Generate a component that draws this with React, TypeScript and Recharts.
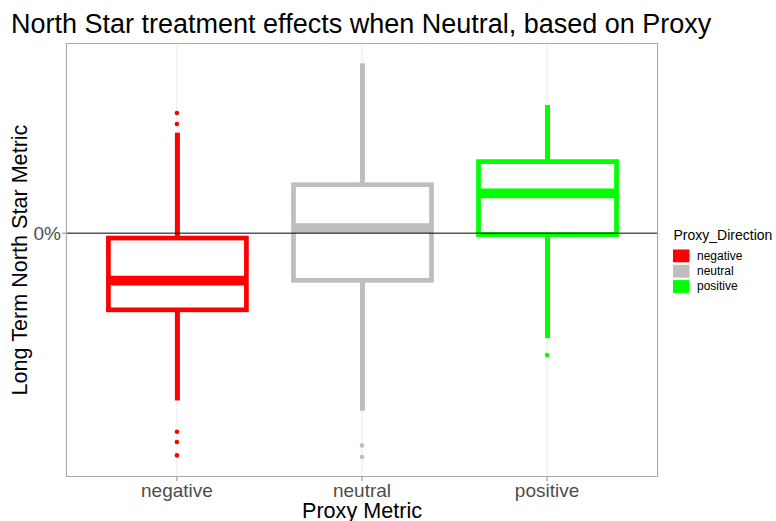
import React from 'react';
import { ComposedChart, Bar, Line, XAxis, YAxis, CartesianGrid, ReferenceLine } from 'recharts';

const categories = ['negative', 'neutral', 'positive'];
const whiskerLow = [-1.674, -1.777, -1.05];
const q1 = [-0.767, -0.472, -0.014];
const median = [-0.475, 0.05, 0.398];
const q3 = [-0.049, 0.485, 0.716];
const whiskerHigh = [1.006, 1.7, 1.283];
const outliers = [
  [1.203, 1.093, -1.987, -2.09, -2.224],
  [-2.124, -2.24],
  [-1.22],
];
const colors = ['#FF0000', '#BEBEBE', '#00FF00'];
const yTicks = [0];
const yTickLabels = ['0%'];

const data = categories.map((c, i) => {
  const row: any = {
    cat: c,
    range: [q1[i], q3[i]],
    q1: q1[i],
    q3: q3[i],
    med: median[i],
    wl: whiskerLow[i],
    wh: whiskerHigh[i],
    color: colors[i],
  };
  for (let k = 0; k < 5; k++) row['o' + k] = outliers[i][k] ?? null;
  return row;
});

const FONT = '"Liberation Sans", Arial, Helvetica, sans-serif';

const BoxShape = (props: any) => {
  const { x, y, width, height, payload } = props;
  if (x == null || y == null) return <g />;
  const ppu = height / (payload.q3 - payload.q1);
  const toY = (v: number) => y + (payload.q3 - v) * ppu;
  const cx = x + width / 2;
  const c = payload.color;
  return (
    <g>
      <line x1={cx} x2={cx} y1={toY(payload.wh)} y2={y} stroke={c} strokeWidth={5} />
      <line x1={cx} x2={cx} y1={y + height} y2={toY(payload.wl)} stroke={c} strokeWidth={5} />
      <rect x={x} y={y} width={width} height={height} fill="#FFFFFF" stroke={c} strokeWidth={4.7} />
      <line x1={x} x2={x + width} y1={toY(payload.med)} y2={toY(payload.med)} stroke={c} strokeWidth={9.7} />
    </g>
  );
};

const OutlierDot = (props: any) => {
  const { cx, cy, payload, value, index, dataKey } = props;
  if (value == null || cx == null || cy == null || isNaN(cy)) return <g key={`${dataKey}-${index}`} />;
  return <circle key={`${dataKey}-${index}`} cx={cx} cy={cy} r={2.3} fill={payload.color} />;
};

const XTick = (props: any) => {
  const { x, payload } = props;
  return (
    <text x={x} y={497} textAnchor="middle" fill="#4D4D4D" fontSize={19} fontFamily={FONT}>
      {payload.value}
    </text>
  );
};

const YTick = (props: any) => {
  const { y, payload } = props;
  const idx = yTicks.indexOf(payload.value);
  return (
    <text x={61} y={y + 7} textAnchor="end" fill="#4D4D4D" fontSize={19} fontFamily={FONT}>
      {yTickLabels[idx] ?? ''}
    </text>
  );
};

export default function App() {
  return (
    <div style={{ position: 'absolute', left: 0, top: 0, width: 776, height: 521, background: '#FFFFFF' }}>
      <ComposedChart
        width={776}
        height={521}
        data={data}
        margin={{ top: 44, right: 118, bottom: 0, left: 0 }}
      >
        <CartesianGrid horizontal={false} vertical={true} stroke="#EBEBEB" strokeWidth={1} />
        <XAxis
          dataKey="cat"
          type="category"
          height={44}
          padding={{ left: 18.4, right: 18.4 }}
          axisLine={false}
          tickLine={{ stroke: '#8A8A8A' }}
          tickSize={4}
          tick={<XTick />}
          interval={0}
        />
        <YAxis
          type="number"
          domain={[-2.44, 1.893]}
          ticks={yTicks}
          width={66}
          axisLine={false}
          tickLine={{ stroke: '#8A8A8A' }}
          tickSize={4}
          tick={<YTick />}
          allowDataOverflow={true}
        />
        <ReferenceLine y={0} stroke="#000000" strokeWidth={1} />
        <Bar dataKey="range" barSize={138} shape={<BoxShape />} isAnimationActive={false} />
        {[0, 1, 2, 3, 4].map((k) => (
          <Line
            key={k}
            dataKey={'o' + k}
            stroke="none"
            dot={<OutlierDot />}
            activeDot={false}
            connectNulls={false}
            isAnimationActive={false}
          />
        ))}
      </ComposedChart>
      <svg
        width={776}
        height={521}
        style={{ position: 'absolute', left: 0, top: 0, pointerEvents: 'none' }}
      >
        <rect x={66.5} y={43.5} width={591} height={433} fill="none" stroke="#ABABAB" strokeWidth={1} />
        <text x={11} y={33} fontSize={27} fontFamily={FONT} fill="#000000">
          North Star treatment effects when Neutral, based on Proxy
        </text>
        <text x={362} y={518} textAnchor="middle" fontSize={21.6} fontFamily={FONT} fill="#000000">
          Proxy Metric
        </text>
        <text
          x={26.5}
          y={260}
          transform="rotate(-90 26.5 260)"
          textAnchor="middle"
          fontSize={21.6}
          fontFamily={FONT}
          fill="#000000"
        >
          Long Term North Star Metric
        </text>
        <text x={673.5} y={239.5} fontSize={14} fontFamily={FONT} fill="#000000">
          Proxy_Direction
        </text>
        {categories.map((c, i) => (
          <g key={c}>
            <rect x={673} y={249.5 + i * 15.3} width={16.5} height={12.8} fill={colors[i]} />
            <text x={697} y={259.6 + i * 15.3} fontSize={12} fontFamily={FONT} fill="#000000">
              {c}
            </text>
          </g>
        ))}
      </svg>
    </div>
  );
}
